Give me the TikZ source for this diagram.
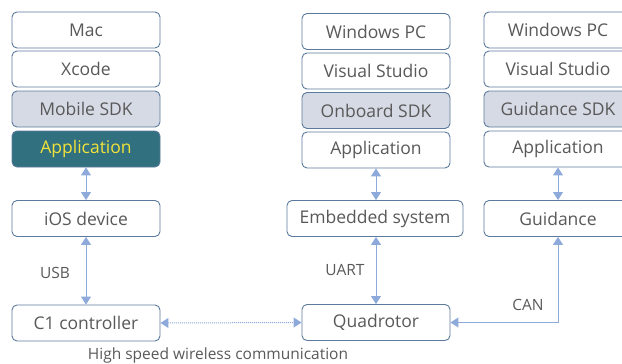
\documentclass[tikz,border=0pt]{standalone}
\usepackage{fontspec}
\setmainfont{Open Sans}
\usetikzlibrary{arrows.meta}
\definecolor{bord}{HTML}{5B7A9C}
\definecolor{sdk}{HTML}{D6DAE4}
\definecolor{appf}{HTML}{31707E}
\definecolor{appt}{HTML}{F2E33A}
\definecolor{txt}{HTML}{595959}
\definecolor{arr}{HTML}{8EAADB}
\tikzset{
  box/.style={draw=bord, line width=0.9pt, rounded corners=5pt, fill=white, minimum width=148pt, minimum height=36pt, inner sep=0pt, text=txt, font=\fontsize{17.5}{19}\selectfont},
  sdkbox/.style={box, fill=sdk},
  appbox/.style={box, fill=appf, text=appt},
  lnk/.style={draw=arr, line width=1pt, {Triangle[width=10pt,length=8pt]}-{Triangle[width=10pt,length=8pt]}},
  lbl/.style={text=txt, font=\fontsize{15.5}{18}\selectfont, inner sep=0pt},
}
\begin{document}
\begin{tikzpicture}[x=1pt,y=-1pt]
\useasboundingbox (0,0) rectangle (622,364);
\begin{scope}
\clip (0,0) rectangle (622,364);
% column 1
\node[box] (mac) at (86,30) {Mac};
\node[box] (xcode) at (86,69) {Xcode};
\node[sdkbox] (msdk) at (86,109) {Mobile SDK};
\node[appbox] (app1) at (86,149) {Application};
\node[box] (ios) at (86,218.5) {iOS device};
\node[box] (c1) at (86,323) {C1 controller};
% column 2
\node[box] (win2) at (376,31.5) {Windows PC};
\node[box] (vs2) at (376,71) {Visual Studio};
\node[sdkbox] (osdk) at (376,110.5) {Onboard SDK};
\node[box] (app2) at (376,150) {Application};
\node[box, minimum width=176pt] (emb) at (375,218.5) {Embedded system};
\node[box] (quad) at (376,322.5) {Quadrotor};
% column 3
\node[box] (win3) at (558,30) {Windows PC};
\node[box] (vs3) at (558,69) {Visual Studio};
\node[sdkbox] (gsdk) at (558,109) {Guidance SDK};
\node[box] (app3) at (558,149) {Application};
\node[box] (guid) at (558,218.5) {Guidance};
\end{scope}
% links
\draw[lnk] (app1.south) -- (ios.north);
\draw[lnk] (ios.south) -- (c1.north);
\draw[lnk] (app2.south) -- (app2.south |- emb.north);
\draw[lnk] (app2.south |- emb.south) -- (quad.north);
\draw[lnk] (app3.south) -- (guid.north);
\draw[lnk, rounded corners=0pt] (guid.south) |- (quad.east);
\draw[lnk, densely dotted] (c1.east) -- (quad.west);
% labels
\node[lbl] (usb) at (55,273) {USB};
\node[lbl] (uart) at (345,270) {UART};
\node[lbl] (can) at (528,305) {CAN};
\node[lbl] (hs) at (218,355) {High speed wireless communication};
\end{tikzpicture}
\end{document}
